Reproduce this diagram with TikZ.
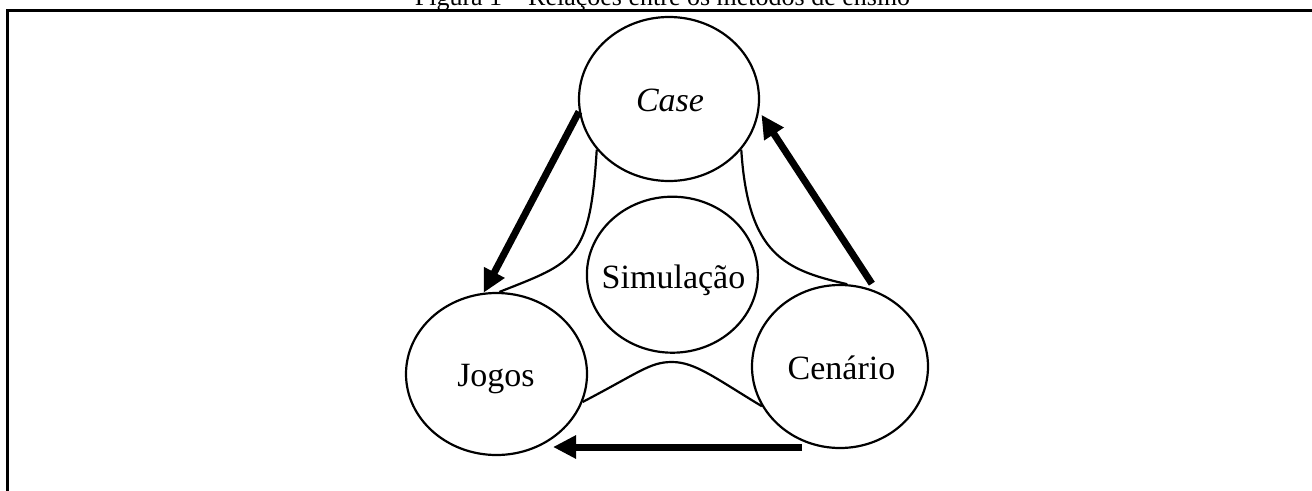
\documentclass[tikz,border=0pt]{standalone}
\usepackage{fontspec}
\setmainfont{Liberation Serif}
\usetikzlibrary{shapes.geometric,arrows.meta}
\begin{document}
\begin{tikzpicture}[x=1pt,y=-1pt,
  blob/.style={ellipse, draw, line width=2.2pt, inner sep=0pt},
  lbl/.style={anchor=base, inner sep=0pt, font=\fontsize{34}{40}\selectfont},
  thinlink/.style={line width=2.2pt},
  bigarrow/.style={line width=7pt, -{Triangle[length=23pt,width=22pt]}},
  framestyle/.style={line width=2.7pt, line join=miter}]
\clip (0,0) rectangle (1312,490);
\node[anchor=base, font=\fontsize{26}{30}\selectfont, inner sep=0pt] (cap) at (662.5,5.5) {Figura 1 – Relações entre os métodos de ensino};
\draw[framestyle] (7.7,491) -- (7.7,10.3) -- (1313,10.3);
% ellipses
\node[blob, minimum width=180pt, minimum height=164pt] (case) at (669,99) {};
\node[blob, minimum width=171pt, minimum height=156pt] (sim) at (672.4,274.7) {};
\node[blob, minimum width=181pt, minimum height=162pt] (jogos) at (496.5,374) {};
\node[blob, minimum width=176pt, minimum height=163pt] (cen) at (840,366.5) {};
% labels
\node[lbl] (caseT) at (670,111) {\textit{Case}};
\node[lbl] (simT) at (673.5,288.3) {Simulação};
\node[lbl] (jogosT) at (496,386.7) {Jogos};
\node[lbl] (cenT) at (841.5,379.3) {Cenário};
% web curves
\draw[thinlink] (case.215) .. controls (590,260) and (575,262) .. (jogos.88);
\draw[thinlink] (case.-35) .. controls (748,255) and (785,270) .. (cen.85);
\draw[thinlink] (jogos.-18) .. controls (640,372) and (650,362) .. (672,362)
  .. controls (695,362) and (715,378) .. (cen.207);
% arrows
\draw[bigarrow] (case.188) -- (jogos.99);
\draw[bigarrow] ([xshift=2pt,yshift=5pt]cen.69) -- ([xshift=3pt]case.350);
\coordinate (b1) at (802,447);
\coordinate (b2) at (553,447);
\draw[bigarrow] (b1) -- (b2);
\end{tikzpicture}
\end{document}
